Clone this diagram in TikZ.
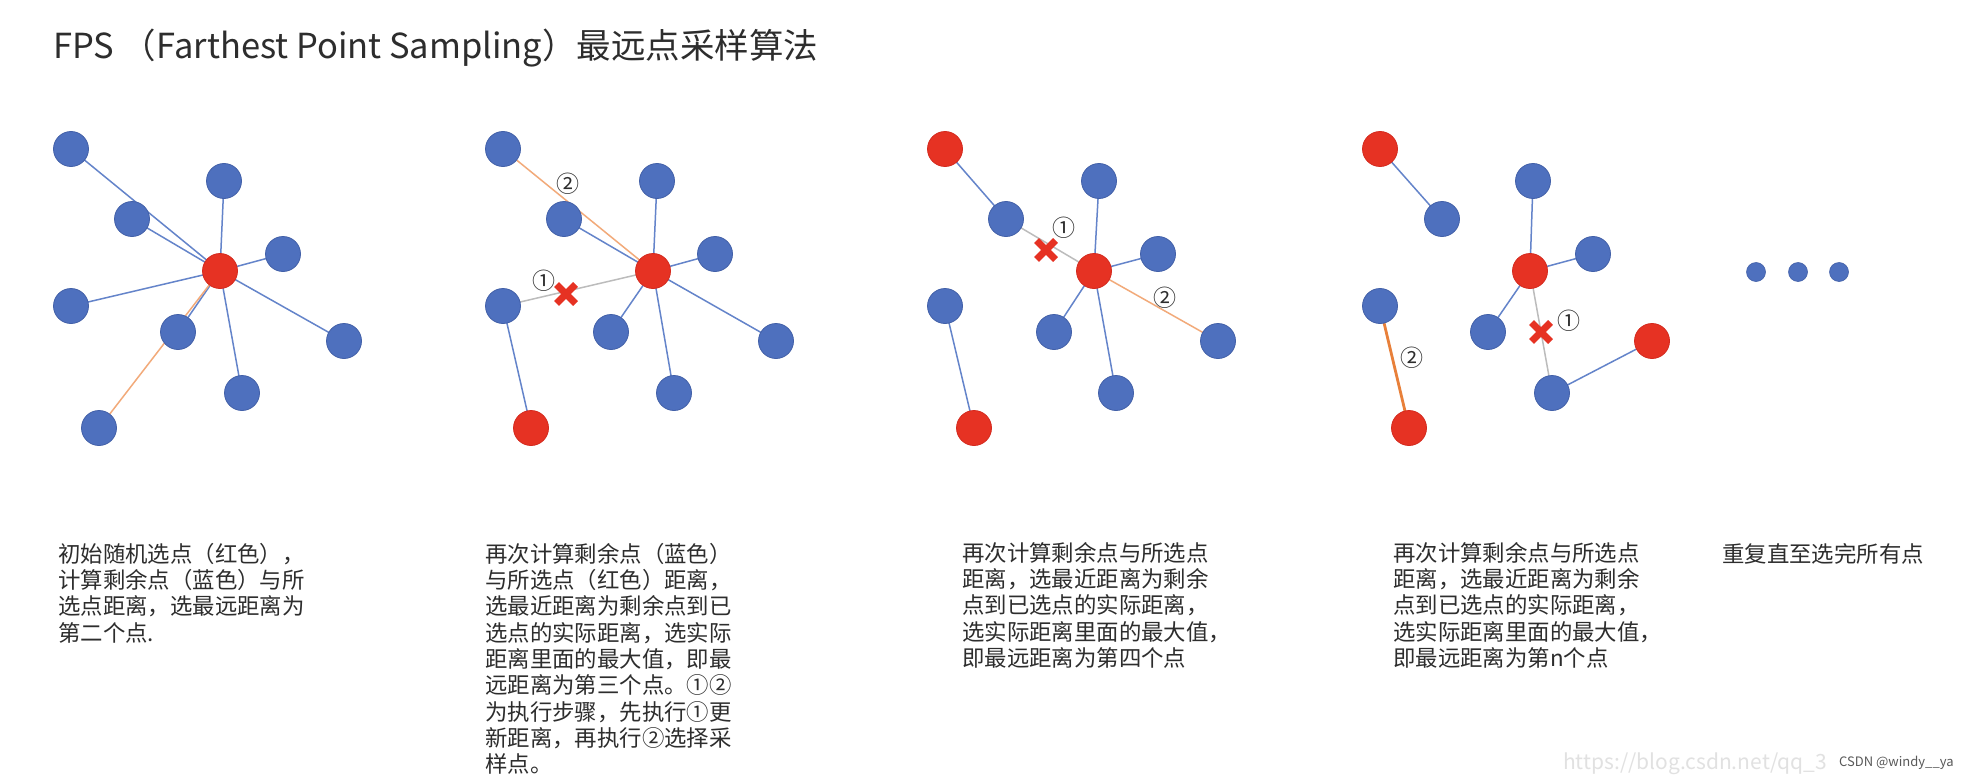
\documentclass[tikz,border=0pt]{standalone}
\usepackage{fontspec}
\setmainfont{Noto Sans CJK SC}
\usetikzlibrary{backgrounds}
\definecolor{ptblue}{RGB}{78,112,190}
\definecolor{ptblueedge}{RGB}{66,96,168}
\definecolor{ptred}{RGB}{230,50,35}
\definecolor{ptrededge}{RGB}{212,42,30}
\definecolor{lnblue}{RGB}{100,132,202}
\definecolor{lnorange}{RGB}{242,170,122}
\definecolor{lnorangedark}{RGB}{232,128,58}
\definecolor{lngray}{RGB}{188,188,188}
\definecolor{txt}{RGB}{45,45,45}
\definecolor{wm}{RGB}{225,225,225}
\tikzset{
  bnode/.style={circle, minimum size=35pt, inner sep=0pt, fill=ptblue, draw=ptblueedge, line width=0.8pt},
  rnode/.style={circle, minimum size=35pt, inner sep=0pt, fill=ptred, draw=ptrededge, line width=0.8pt},
  dotnode/.style={circle, minimum size=19pt, inner sep=0pt, fill=ptblue, draw=ptblueedge, line width=0.6pt},
  bl/.style={draw=lnblue, line width=1.5pt},
  ol/.style={draw=lnorange, line width=1.5pt},
  olthick/.style={draw=lnorangedark, line width=2.8pt},
  gl/.style={draw=lngray, line width=1.5pt},
  xcross/.style={draw=ptred, line width=7pt},
  steplabel/.style={inner sep=0pt, text=txt, font=\fontsize{23}{23}\selectfont},
  desc/.style={anchor=north west, inner sep=0pt, align=left, text=txt, font=\fontsize{22.4}{26.3}\selectfont},
  pt/.style={inner sep=0pt, minimum size=0pt}
}
\begin{document}
\begin{tikzpicture}[x=1pt,y=-1pt]
\useasboundingbox (0,0) rectangle (1977,781);

% title
\node[anchor=west, inner sep=0pt, text=txt, font=\fontsize{34.5}{34.5}\selectfont] (title) at (53,48) {FPS （Farthest Point Sampling）最远点采样算法};

% ---------- panel 1 ----------
\node[bnode] (p1a) at (71,149) {};
\node[bnode] (p1b) at (132,219) {};
\node[bnode] (p1c) at (224,181) {};
\node[bnode] (p1d) at (283,254) {};
\node[rnode] (p1r) at (220,271) {};
\node[bnode] (p1e) at (71,306) {};
\node[bnode] (p1f) at (178,332) {};
\node[bnode] (p1g) at (344,341) {};
\node[bnode] (p1h) at (242,393) {};
\node[bnode] (p1i) at (99,428) {};

% ---------- panel 2 ----------
\node[bnode] (p2a) at (503,149) {};
\node[bnode] (p2b) at (564,219) {};
\node[bnode] (p2c) at (657,181) {};
\node[bnode] (p2d) at (715,254) {};
\node[rnode] (p2r) at (653,271) {};
\node[bnode] (p2e) at (503,306) {};
\node[bnode] (p2f) at (611,332) {};
\node[bnode] (p2g) at (776,341) {};
\node[bnode] (p2h) at (674,393) {};
\node[rnode] (p2i) at (531,428) {};
\node[pt] (p2x) at (566,294) {};
\node[steplabel] (p2l1) at (544,281) {①};
\node[steplabel] (p2l2) at (568,184) {②};

% ---------- panel 3 ----------
\node[rnode] (p3a) at (945,149) {};
\node[bnode] (p3b) at (1006,219) {};
\node[bnode] (p3c) at (1099,181) {};
\node[bnode] (p3d) at (1158,254) {};
\node[rnode] (p3r) at (1094,271) {};
\node[bnode] (p3e) at (945,306) {};
\node[bnode] (p3f) at (1054,332) {};
\node[bnode] (p3g) at (1218,341) {};
\node[bnode] (p3h) at (1116,393) {};
\node[rnode] (p3i) at (974,428) {};
\node[pt] (p3x) at (1046,250) {};
\node[steplabel] (p3l1) at (1064,228) {①};
\node[steplabel] (p3l2) at (1165,298) {②};

% ---------- panel 4 ----------
\node[rnode] (p4a) at (1380,149) {};
\node[bnode] (p4b) at (1442,219) {};
\node[bnode] (p4c) at (1533,181) {};
\node[bnode] (p4d) at (1593,254) {};
\node[rnode] (p4r) at (1530,271) {};
\node[bnode] (p4e) at (1380,306) {};
\node[bnode] (p4f) at (1488,332) {};
\node[rnode] (p4g) at (1652,341) {};
\node[bnode] (p4h) at (1552,393) {};
\node[rnode] (p4i) at (1409,428) {};
\node[pt] (p4x) at (1541,332) {};
\node[steplabel] (p4l1) at (1569,321) {①};
\node[steplabel] (p4l2) at (1412,358) {②};

% dots
\node[dotnode] (dot1) at (1756,272) {};
\node[dotnode] (dot2) at (1798,272) {};
\node[dotnode] (dot3) at (1839,272) {};

\begin{scope}[on background layer]
  \fill[white] (0,0) rectangle (1977,781);
  % panel 1
  \draw[bl] (p1a.center) -- (p1r.center);
  \draw[bl] (p1b.center) -- (p1r.center);
  \draw[bl] (p1c.center) -- (p1r.center);
  \draw[bl] (p1d.center) -- (p1r.center);
  \draw[bl] (p1e.center) -- (p1r.center);
  \draw[bl] (p1f.center) -- (p1r.center);
  \draw[bl] (p1g.center) -- (p1r.center);
  \draw[bl] (p1h.center) -- (p1r.center);
  \draw[ol] (p1i.center) -- (p1r.center);
  % panel 2
  \draw[ol] (p2a.center) -- (p2r.center);
  \draw[bl] (p2b.center) -- (p2r.center);
  \draw[bl] (p2c.center) -- (p2r.center);
  \draw[bl] (p2d.center) -- (p2r.center);
  \draw[gl] (p2e.center) -- (p2r.center);
  \draw[bl] (p2f.center) -- (p2r.center);
  \draw[bl] (p2g.center) -- (p2r.center);
  \draw[bl] (p2h.center) -- (p2r.center);
  \draw[bl] (p2e.center) -- (p2i.center);
  % panel 3
  \draw[bl] (p3a.center) -- (p3b.center);
  \draw[gl] (p3b.center) -- (p3r.center);
  \draw[bl] (p3c.center) -- (p3r.center);
  \draw[bl] (p3d.center) -- (p3r.center);
  \draw[bl] (p3f.center) -- (p3r.center);
  \draw[bl] (p3h.center) -- (p3r.center);
  \draw[ol] (p3g.center) -- (p3r.center);
  \draw[bl] (p3e.center) -- (p3i.center);
  % panel 4
  \draw[bl] (p4a.center) -- (p4b.center);
  \draw[bl] (p4c.center) -- (p4r.center);
  \draw[bl] (p4d.center) -- (p4r.center);
  \draw[bl] (p4f.center) -- (p4r.center);
  \draw[gl] (p4r.center) -- (p4h.center);
  \draw[bl] (p4h.center) -- (p4g.center);
  \draw[olthick] (p4e.center) -- (p4i.center);
\end{scope}

% red crosses
\foreach \c in {p2x,p3x,p4x}{
  \draw[xcross] ([shift={(-9.5,-9.5)}]\c.center) -- ([shift={(9.5,9.5)}]\c.center);
  \draw[xcross] ([shift={(-9.5,9.5)}]\c.center) -- ([shift={(9.5,-9.5)}]\c.center);
}

% descriptions
\node[desc] (d1) at (58,543) {初始随机选点（红色），\\计算剩余点（蓝色）与所\\选点距离，选最远距离为\\第二个点.};
\node[desc] (d2) at (485,543) {再次计算剩余点（蓝色）\\与所选点（红色）距离，\\选最近距离为剩余点到已\\选点的实际距离，选实际\\距离里面的最大值，即最\\远距离为第三个点。①②\\为执行步骤，先执行①更\\新距离，再执行②选择采\\样点。};
\node[desc] (d3) at (962,542) {再次计算剩余点与所选点\\距离，选最近距离为剩余\\点到已选点的实际距离，\\选实际距离里面的最大值，\\即最远距离为第四个点};
\node[desc] (d4) at (1393,542) {再次计算剩余点与所选点\\距离，选最近距离为剩余\\点到已选点的实际距离，\\选实际距离里面的最大值，\\即最远距离为第n个点};
\node[desc] (d5) at (1722,543) {重复直至选完所有点};

% watermark
\node[anchor=west, inner sep=0pt, text=wm, font=\fontsize{21}{21}\selectfont] (wm1) at (1563,764) {https://blog.csdn.net/qq\_3};
\node[anchor=west, inner sep=1pt, fill=white, text=black!65, font=\fontsize{13}{13}\selectfont] (wm2) at (1838,763) {CSDN @windy\_\_ya};
\end{tikzpicture}
\end{document}
